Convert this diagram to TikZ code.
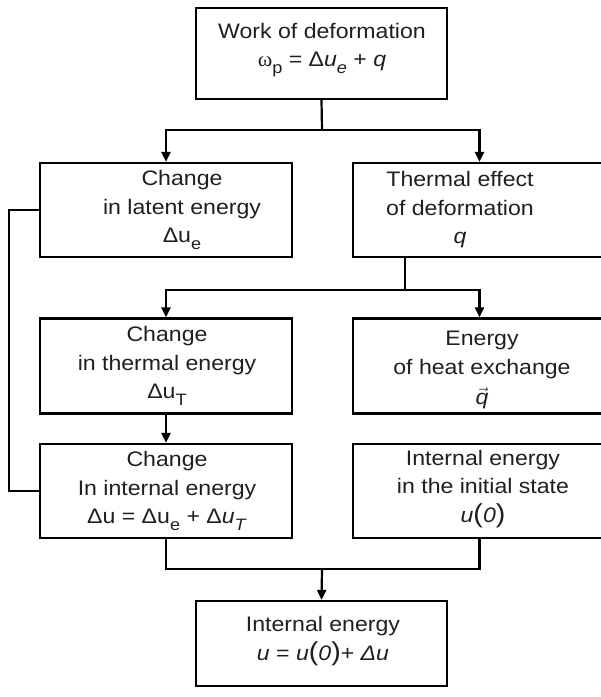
\documentclass[tikz,border=0pt]{standalone}
\usepackage{fontspec}
\setmainfont{Liberation Sans}[FakeStretch=1.1]
\newfontfamily\serifgr{Liberation Serif}[FakeStretch=1.05]
\usetikzlibrary{arrows.meta}
\newcommand\sbs[1]{\raisebox{-0.32em}{\fontsize{16.5}{16.5}\selectfont #1}}
\newcommand\bigpar[1]{{\fontsize{26}{26}\selectfont #1}}
\begin{document}
\begin{tikzpicture}[x=1pt,y=-1pt,
  box/.style={draw, line width=2.2pt, rectangle, inner sep=0pt},
  txt/.style={align=center, inner sep=0pt, text=black!88, font=\fontsize{21}{28.5}\selectfont},
  conn/.style={line width=2.2pt},
  arr/.style={line width=2.2pt, -{Triangle[length=10pt,width=9pt]}}]
\useasboundingbox (0,0) rectangle (601,697);
% boxes
\node[box, minimum width=251pt, minimum height=91pt] (b0) at (321.5,53.5) {};
\node[box, minimum width=252pt, minimum height=94pt] (b1) at (166,210) {};
\node[box, minimum width=253pt, minimum height=94pt] (b2) at (479.5,210) {};
\node[box, minimum width=252pt, minimum height=95pt] (b3) at (166,366) {};
\node[box, minimum width=253pt, minimum height=95pt] (b4) at (479.5,366) {};
\node[box, minimum width=252pt, minimum height=94pt] (b5) at (166,491) {};
\node[box, minimum width=253pt, minimum height=94pt] (b6) at (479.5,491) {};
\node[box, minimum width=251pt, minimum height=85pt] (b7) at (321.5,643.5) {};
% texts
\node[txt] (t0) at (322,50) {Work of deformation\\{\serifgr ω}\sbs{p} = Δ\textit{u}\sbs{\textit{e}} + \textit{q}};
\node[txt] (t1) at (182,210) {Change\\in latent energy\\Δu\sbs{e}};
\node[txt] (t2) at (460,210) {Thermal effect\\of deformation\\\textit{q}};
\node[txt] (t3) at (167,366) {Change\\in thermal energy\\Δu\sbs{T}};
\node[txt] (t4) at (482,368) {Energy\\of heat exchange\\[2pt]\smash{$\vec{\textit{q}}$}};
\node[txt] (t5) at (167,491) {Change\\In internal energy\\Δu = Δu\sbs{e} + Δ\textit{u}\sbs{\textit{T}}};
\node[txt] (t6) at (483,489) {Internal energy\\in the initial state\\\textit{u}\bigpar{(}\textit{0}\bigpar{)}};
\node[txt] (t7) at (323,641) {Internal energy\\\textit{u} = \textit{u}\bigpar{(}\textit{0}\bigpar{)}+ \textit{Δu}};
% junctions
\coordinate (j1) at (322,130);
\coordinate (j2) at (405,290);
\coordinate (j3) at (322,569);
% connectors
\draw[conn] (b0.south) -- (j1);
\draw[arr] (j1) -| (b1.north);
\draw[arr] (j1) -| (b2.north);
\draw[conn] (b2.south -| j2) -- (j2);
\draw[arr] (j2) -| (b3.north);
\draw[arr] (j2) -| (b4.north);
\draw[arr] (b3.south) -- (b5.north);
\draw[conn] (b1.west) -- ++(-30,0) |- (b5.west);
\draw[conn] (b5.south) |- (b6.south |- j3) -- (b6.south);
\draw[arr] (j3) -- (b7.north);
\end{tikzpicture}
\end{document}
